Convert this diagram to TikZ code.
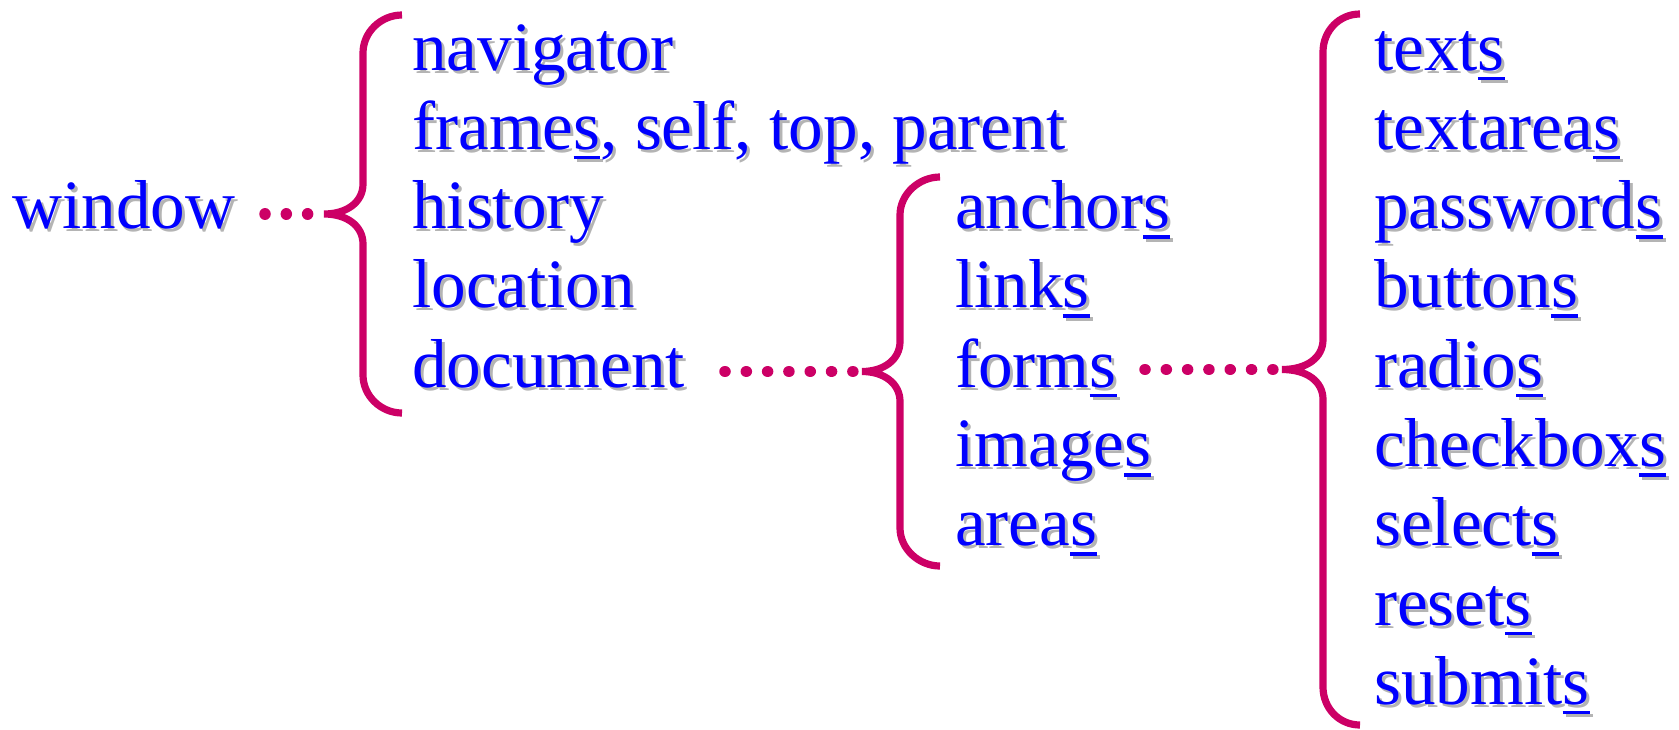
\documentclass[tikz,border=0pt]{standalone}
\usepackage{fontspec}
\setmainfont{Liberation Serif}
\usetikzlibrary{calc}

\definecolor{bracecol}{RGB}{204,0,102}
\definecolor{textblue}{RGB}{0,0,255}
\definecolor{shadowgray}{RGB}{180,180,180}

% underlined letter (rule drawn below the baseline)
\newcommand\su[1]{\setbox0=\hbox{#1}\rlap{\rule[-10pt]{\wd0}{3.5pt}}\box0}

% a text entry with a soft grey drop shadow: name, x, baseline y, text
\newcommand\entry[4]{%
  \node[txt,text=shadowgray] (#1-shadow) at (#2+3,#3+3) {#4};
  \node[txt] (#1) at (#2,#3) {#4};}

% curly brace: tip name, end x, spine x, top y, bottom y, tip x
\newcommand\curly[6]{%
  \coordinate (#1) at (#6,{(#4+#5)/2});
  \draw[bracestroke]
    (#2,#4) .. controls (#2-21,#4) and (#3,#4+17) .. (#3,#4+38)
    -- (#3,{(#4+#5)/2-30})
    .. controls (#3,{(#4+#5)/2-12}) and (#3-16,{(#4+#5)/2}) .. (#1)
    .. controls (#3-16,{(#4+#5)/2}) and (#3,{(#4+#5)/2+12}) .. (#3,{(#4+#5)/2+30})
    -- (#3,#5-38)
    .. controls (#3,#5-17) and (#2-21,#5) .. (#2,#5);}

\tikzset{
  txt/.style={anchor=base west,inner sep=0pt,text=textblue,
    font=\fontsize{69.2}{80}\selectfont},
  bracestroke/.style={draw=bracecol,line width=7.2pt,line cap=butt},
  dotrow/.style={draw=bracecol,line width=11.5pt,line cap=round,
    dash pattern=on 0.01pt off 21.3pt},
}

\begin{document}
\begin{tikzpicture}[x=1pt,y=-1pt]
  \useasboundingbox (0,0) rectangle (1679,729);

  % root
  \entry{window}{12}{228.6}{window}

  % first level
  \entry{navigator}{412}{70}{navigator}
  \entry{frames}{412}{149.3}{frame\su{s}, self, top, parent}
  \entry{history}{412}{228.6}{history}
  \entry{location}{412}{307.9}{location}
  \entry{document}{412}{387.2}{document}

  % document collections
  \entry{anchors}{955}{228.6}{anchor\su{s}}
  \entry{links}{955}{307.9}{link\su{s}}
  \entry{forms}{955}{387.2}{form\su{s}}
  \entry{images}{955}{466.5}{image\su{s}}
  \entry{areas}{955}{545.8}{area\su{s}}

  % form elements
  \entry{texts}{1374}{70}{text\su{s}}
  \entry{textareas}{1374}{149.3}{textarea\su{s}}
  \entry{passwords}{1374}{228.6}{password\su{s}}
  \entry{buttons}{1374}{307.9}{button\su{s}}
  \entry{radios}{1374}{387.2}{radio\su{s}}
  \entry{checkboxs}{1374}{466.5}{checkbox\su{s}}
  \entry{selects}{1374}{545.8}{select\su{s}}
  \entry{resets}{1374}{625.1}{reset\su{s}}
  \entry{submits}{1374}{704.4}{submit\su{s}}

  % braces
  \curly{tip1}{402}{363}{15}{413}{324}
  \curly{tip2}{940}{900}{177}{566}{862}
  \curly{tip3}{1360}{1323}{14}{725}{1282}

  % dotted leaders
  \coordinate (lead1) at (265,214);
  \coordinate (lead2) at (725,371.5);
  \coordinate (lead3) at (1145,369.5);
  \draw[dotrow] (lead1) -- (tip1);
  \draw[dotrow] (lead2) -- (tip2);
  \draw[dotrow] (lead3) -- (tip3);
\end{tikzpicture}
\end{document}
